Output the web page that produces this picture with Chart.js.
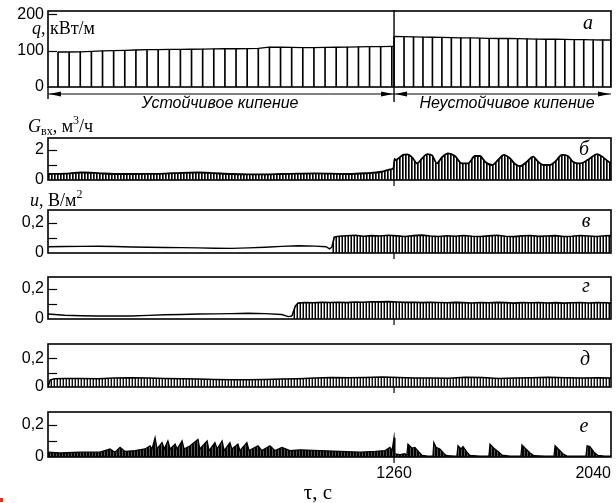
<!DOCTYPE html>
<html>
<head>
<meta charset="utf-8">
<script src="https://cdn.jsdelivr.net/npm/chart.js@4.4.1/dist/chart.umd.min.js"></script>
<style>
  html, body { margin: 0; padding: 0; background: #fff; }
  body { position: relative; width: 616px; height: 503px; overflow: hidden; }
  canvas { position: absolute; left: 0; }
  .t { position: absolute; white-space: nowrap; line-height: 1; color: #000; }
  .serif { font-family: "Liberation Serif", "Times New Roman", serif; font-size: 18px; }
  .sans { font-family: "Liberation Sans", Arial, sans-serif; font-size: 16px; font-style: italic; }
  .tag { font-family: "Liberation Serif", "Times New Roman", serif; font-size: 20px; font-style: italic; transform: translateX(-50%); }
  i { font-style: italic; }
  sub { font-size: 12px; vertical-align: -3px; }
  sup { font-size: 12px; vertical-align: 8px; }
  .dot { position: absolute; left: 0; top: 498px; width: 3px; height: 4px; background: #e0341c; }
</style>
</head>
<body>
<canvas id="pA" width="616" height="101" style="top:2px"></canvas>
<canvas id="pB" width="616" height="60" style="top:130px"></canvas>
<canvas id="pV" width="616" height="61" style="top:202px"></canvas>
<canvas id="pG" width="616" height="60" style="top:269px"></canvas>
<canvas id="pD" width="616" height="61" style="top:336px"></canvas>
<canvas id="pE" width="616" height="83" style="top:404px"></canvas>

<div class="t serif" style="left:32px;top:19px"><i>q</i>, кВт/м</div>
<div class="t serif" style="left:28px;top:114px"><i>G</i><sub>вх</sub>, м<sup>3</sup>/ч</div>
<div class="t serif" style="left:30px;top:188px"><i>u</i>, В/м<sup>2</sup></div>

<div class="t sans" style="left:220px;top:95px;transform:translateX(-50%)">Устойчивое кипение</div>
<div class="t sans" style="left:507px;top:95px;transform:translateX(-50%)">Неустойчивое кипение</div>

<div class="t tag" style="left:588px;top:12px">а</div>
<div class="t tag" style="left:584px;top:138px">б</div>
<div class="t tag" style="left:586px;top:210px">в</div>
<div class="t tag" style="left:586px;top:275px">г</div>
<div class="t tag" style="left:585px;top:348px">д</div>
<div class="t tag" style="left:584px;top:415px">е</div>

<div class="t serif" style="left:318px;top:482px;font-size:21px;transform:translateX(-50%)">τ, с</div>
<div class="dot"></div>

<script>
// ---- time axis, s ----
const T_MIN = 16;
const T_MAX = 2040;
const xTickValues = [16, 1260, 2040];
const xTickLabels = ['', '1260', '2040'];
const T_SWITCH = 1260;

// ---- heat flux q, kW/m (sampled heater readings) ----
const qTimesStable = [52, 92, 132, 172, 212, 252, 292, 332, 372, 412, 452, 492, 532, 572, 612, 652, 692, 732, 772, 812, 852, 892, 932, 972, 1012, 1052, 1092, 1132, 1172, 1212, 1252];
const qStable = [96, 96, 96.5, 97.5, 99, 100, 100.5, 101.5, 102.5, 102.5, 103, 103, 103.5, 104, 104.5, 105, 105, 105.5, 106, 109.5, 109, 108.5, 108, 108, 108.5, 109, 109.5, 110, 110.5, 111, 111.5];
const qTimesUnstable = [1260, 1296, 1330, 1364, 1398, 1432, 1466, 1500, 1534, 1568, 1602, 1636, 1670, 1704, 1738, 1772, 1806, 1840, 1874, 1908, 1942, 1976, 2010, 2040];
const qUnstable = [138.5, 138, 137.5, 137, 136.5, 136, 135.5, 135, 134.5, 134, 133.5, 133, 133, 132.5, 132, 131.5, 131, 131, 130.5, 130, 130, 129.5, 129, 129];
const qTickValues = [0, 100, 200];
const qTickLabels = ['0', '100', '200'];

// ---- inlet flow G, m3/h ----
const gTimes = [16, 76, 136, 196, 256, 316, 376, 436, 496, 556, 616, 676, 736, 796, 856, 916, 976, 1036, 1096, 1156, 1216, 1246, 1258, 1262, 1265, 1292, 1307, 1325, 1343, 1361, 1379, 1397, 1414, 1432, 1454, 1479, 1504, 1526, 1551, 1569, 1587, 1612, 1634, 1655, 1677, 1695, 1713, 1738, 1760, 1778, 1796, 1821, 1839, 1864, 1885, 1903, 1921, 1939, 1964, 1990, 2008, 2026, 2040];
const gValues = [0.40, 0.42, 0.50, 0.46, 0.40, 0.40, 0.41, 0.43, 0.48, 0.50, 0.45, 0.40, 0.38, 0.38, 0.40, 0.42, 0.44, 0.42, 0.40, 0.45, 0.55, 0.70, 0.80, 1.40, 1.33, 1.67, 1.71, 1.51, 1.11, 1.44, 1.73, 1.64, 1.11, 1.51, 1.78, 1.60, 1.11, 1.11, 1.60, 1.60, 1.22, 1.00, 1.33, 1.67, 1.44, 1.07, 0.93, 1.22, 1.56, 1.22, 1.00, 1.00, 1.22, 1.67, 1.60, 1.22, 1.11, 1.15, 1.44, 1.73, 1.56, 1.29, 1.11];
const gTickValues = [0, 1, 2];
const gTickLabels = ['0', '', '2'];

// ---- acoustic signal u, V/m2, sensor в ----
const vTimesQuiet = [16, 76, 136, 196, 256, 316, 376, 436, 496, 556, 616, 676, 736, 796, 856, 916, 976, 1016, 1028, 1037];
const vQuiet = [0.042, 0.043, 0.044, 0.045, 0.043, 0.040, 0.038, 0.037, 0.036, 0.034, 0.032, 0.031, 0.034, 0.038, 0.044, 0.048, 0.046, 0.042, 0.028, 0.040];
const vTimesActive = [1037, 1045, 1060, 1090, 1120, 1150, 1180, 1210, 1240, 1270, 1300, 1330, 1360, 1390, 1420, 1450, 1480, 1510, 1540, 1570, 1600, 1630, 1660, 1690, 1720, 1750, 1780, 1810, 1840, 1870, 1900, 1930, 1960, 1990, 2020, 2040];
const vActive = [0.040, 0.105, 0.112, 0.115, 0.118, 0.112, 0.116, 0.113, 0.118, 0.114, 0.110, 0.116, 0.119, 0.113, 0.110, 0.115, 0.112, 0.117, 0.112, 0.110, 0.114, 0.118, 0.112, 0.109, 0.114, 0.117, 0.111, 0.113, 0.116, 0.110, 0.112, 0.117, 0.113, 0.110, 0.115, 0.116];

// ---- sensor г ----
const gsTimesQuiet = [16, 76, 136, 196, 256, 316, 376, 436, 496, 556, 616, 676, 736, 796, 856, 880, 893];
const gsQuiet = [0.033, 0.025, 0.022, 0.020, 0.020, 0.020, 0.024, 0.028, 0.030, 0.033, 0.034, 0.036, 0.038, 0.036, 0.030, 0.016, 0.020];
const gsTimesActive = [893, 905, 915, 940, 970, 1000, 1030, 1060, 1090, 1120, 1150, 1180, 1210, 1240, 1270, 1300, 1330, 1360, 1390, 1420, 1450, 1480, 1510, 1540, 1570, 1600, 1630, 1660, 1690, 1720, 1750, 1780, 1810, 1840, 1870, 1900, 1930, 1960, 1990, 2020, 2040];
const gsActive = [0.020, 0.085, 0.106, 0.110, 0.108, 0.111, 0.110, 0.112, 0.109, 0.113, 0.112, 0.115, 0.114, 0.116, 0.113, 0.111, 0.112, 0.109, 0.112, 0.110, 0.108, 0.111, 0.109, 0.107, 0.110, 0.108, 0.111, 0.109, 0.106, 0.109, 0.108, 0.110, 0.107, 0.109, 0.106, 0.108, 0.110, 0.107, 0.109, 0.108, 0.106];

// ---- sensor д ----
const dTimes = [16, 24, 40, 76, 136, 196, 256, 316, 376, 436, 496, 556, 616, 676, 736, 796, 856, 916, 976, 1036, 1096, 1156, 1216, 1276, 1336, 1396, 1456, 1516, 1576, 1636, 1696, 1756, 1816, 1876, 1936, 1996, 2040];
const dValues = [0.000, 0.050, 0.058, 0.060, 0.060, 0.058, 0.062, 0.064, 0.062, 0.060, 0.058, 0.055, 0.052, 0.050, 0.050, 0.052, 0.055, 0.058, 0.062, 0.066, 0.064, 0.066, 0.070, 0.066, 0.062, 0.063, 0.061, 0.068, 0.066, 0.060, 0.062, 0.064, 0.068, 0.065, 0.062, 0.064, 0.063];

// ---- sensor е ----
const eTimes = [16, 59, 131, 203, 239, 257, 275, 293, 329, 365, 383, 390, 401, 408, 426, 434, 447, 455, 473, 480, 498, 505, 527, 555, 562, 588, 595, 616, 624, 642, 649, 670, 677, 699, 706, 731, 739, 771, 785, 814, 832, 857, 886, 922, 994, 1066, 1138, 1192, 1228, 1245, 1253, 1260, 1263, 1281, 1299, 1306, 1310, 1325, 1335, 1350, 1361, 1382, 1400, 1403, 1411, 1425, 1440, 1450, 1479, 1486, 1490, 1501, 1508, 1522, 1533, 1569, 1601, 1605, 1619, 1634, 1648, 1677, 1716, 1720, 1734, 1749, 1763, 1803, 1835, 1839, 1853, 1867, 1882, 1921, 1950, 1954, 1964, 1979, 1993, 2018, 2040];
const eValues = [0.030, 0.025, 0.030, 0.030, 0.050, 0.030, 0.060, 0.035, 0.040, 0.050, 0.070, 0.050, 0.120, 0.050, 0.090, 0.050, 0.100, 0.050, 0.080, 0.050, 0.100, 0.050, 0.070, 0.110, 0.050, 0.100, 0.040, 0.090, 0.050, 0.100, 0.040, 0.090, 0.050, 0.080, 0.040, 0.090, 0.040, 0.070, 0.040, 0.070, 0.040, 0.060, 0.040, 0.045, 0.040, 0.035, 0.030, 0.035, 0.040, 0.060, 0.040, 0.120, 0.020, 0.015, 0.020, 0.010, 0.080, 0.055, 0.060, 0.030, 0.010, 0.005, 0.005, 0.090, 0.060, 0.050, 0.020, 0.008, 0.005, 0.005, 0.070, 0.050, 0.065, 0.030, 0.010, 0.005, 0.005, 0.080, 0.055, 0.035, 0.012, 0.005, 0.005, 0.075, 0.050, 0.025, 0.008, 0.005, 0.005, 0.070, 0.045, 0.020, 0.006, 0.005, 0.005, 0.070, 0.065, 0.030, 0.010, 0.005, 0.005];

const uTickValues = [0, 0.1, 0.2];
const uTickLabels = ['0', '', '0,2'];

// ---------------------------------------------------------------
const pts = (xs, ys) => xs.map((x, i) => ({ x, y: ys[i] }));

// vertical recorder hatching used under the traces
function hatch(cols) {
  const c = document.createElement('canvas');
  c.width = cols.length; c.height = 1;
  const g = c.getContext('2d');
  cols.forEach((col, i) => { g.fillStyle = col; g.fillRect(i, 0, 1, 1); });
  return g.createPattern(c, 'repeat');
}

function seg(ctx, x1, y1, x2, y2) {
  ctx.beginPath(); ctx.moveTo(x1, y1); ctx.lineTo(x2, y2); ctx.stroke();
}
function head(ctx, x, y, dir) {
  ctx.beginPath();
  ctx.moveTo(x, y);
  ctx.lineTo(x - dir * 12, y - 2.6);
  ctx.lineTo(x - dir * 12, y + 2.6);
  ctx.closePath(); ctx.fill();
}

// box, inward tick marks and the regime markers
const panelFrame = {
  id: 'panelFrame',
  afterDatasetsDraw(chart, args, o) {
    const { ctx, chartArea: a, scales } = chart;
    ctx.save();
    ctx.strokeStyle = '#000'; ctx.fillStyle = '#000';
    ctx.lineWidth = 1.6;
    ctx.strokeRect(a.left, a.top, a.right - a.left, a.bottom - a.top);
    ctx.lineWidth = 1.2;
    (o.inner || []).forEach(v => {
      const y = Math.round(scales.y.getPixelForValue(v)) + 0.5;
      seg(ctx, a.left, y, a.left + 9, y);
    });
    const xs = scales.x.getPixelForValue(T_SWITCH);
    if (o.mark) seg(ctx, xs, a.bottom, xs, a.bottom + 6);
    if (o.regimes) {
      ctx.lineWidth = 1.4;
      seg(ctx, xs, a.top - 1, xs, a.bottom + 15);
      seg(ctx, a.left, a.bottom, a.left, a.bottom + 12);
      const ya = a.bottom + 7;
      ctx.lineWidth = 1;
      seg(ctx, a.left, ya, a.right, ya);
      head(ctx, a.left + 1, ya, -1);
      head(ctx, xs - 1, ya, 1);
      head(ctx, xs + 1, ya, -1);
      head(ctx, a.right - 1, ya, 1);
    }
    ctx.restore();
  }
};

const tickFont = { family: '"Liberation Sans", Arial, sans-serif', size: 16 };

function panel(id, cfg) {
  const showX = !!cfg.xLabels;
  const xScale = {
    type: 'linear', min: T_MIN, max: T_MAX, offset: false,
    display: showX,
    grid: { display: false, drawTicks: false },
    border: { display: false },
    ticks: {
      color: '#000', font: tickFont, padding: 7, align: 'inner',
      maxRotation: 0, autoSkip: false,
      callback: (v, i) => xTickLabels[i]
    },
    afterBuildTicks: s => { s.ticks = xTickValues.map(v => ({ value: v })); },
    afterFit: s => {
      s.height = showX ? 30 : 0;
      s.paddingLeft = 0; s.paddingRight = 0;
    }
  };
  const yScale = {
    type: 'linear', min: 0, max: cfg.yMax,
    grid: { display: false, drawTicks: false },
    border: { display: false },
    ticks: { color: '#000', font: tickFont, padding: 4, callback: (v, i) => cfg.yLabels[i] },
    afterBuildTicks: s => { s.ticks = cfg.yTicks.map(v => ({ value: v })); },
    afterFit: s => { s.width = 48; s.paddingTop = 0; s.paddingBottom = 0; }
  };
  return new Chart(document.getElementById(id), {
    type: cfg.type || 'line',
    data: { datasets: cfg.datasets },
    options: {
      responsive: false, animation: false, devicePixelRatio: 1,
      layout: { padding: { left: 0, right: 5, top: cfg.padTop, bottom: cfg.padBottom } },
      elements: { point: { radius: 0 }, line: { borderColor: '#000', borderWidth: 1.5 } },
      plugins: { legend: { display: false }, tooltip: { enabled: false }, panelFrame: cfg.frame },
      scales: { x: xScale, y: yScale }
    },
    plugins: [panelFrame]
  });
}

// а — heat flux
panel('pA', {
  type: 'bar', yMax: 208.5, yTicks: qTickValues, yLabels: qTickLabels, padTop: 9, padBottom: 16,
  frame: { inner: [100, 200], regimes: true },
  datasets: [
    { type: 'bar', data: pts(qTimesStable.concat(qTimesUnstable), qStable.concat(qUnstable)), backgroundColor: '#000', barThickness: 1, borderWidth: 0 },
    { type: 'line', data: pts(qTimesStable.concat([T_SWITCH]), qStable.concat([qStable[qStable.length - 1]])), borderWidth: 1.3, fill: false },
    { type: 'line', data: pts(qTimesUnstable, qUnstable), borderWidth: 1.3, fill: false }
  ]
});

// б — inlet flow
panel('pB', {
  yMax: 2.8, yTicks: gTickValues, yLabels: gTickLabels, padTop: 8, padBottom: 10,
  frame: { inner: [1, 2], mark: true },
  datasets: [
    { data: pts(gTimes, gValues), borderWidth: 1.8, cubicInterpolationMode: 'monotone', fill: 'origin', backgroundColor: hatch(['#000', '#555', '#fff']) }
  ]
});

// в
panel('pV', {
  yMax: 0.287, yTicks: uTickValues, yLabels: uTickLabels, padTop: 8, padBottom: 10,
  frame: { inner: [0.1, 0.2], mark: true },
  datasets: [
    { data: pts(vTimesQuiet, vQuiet), borderWidth: 1.4, fill: false },
    { data: pts(vTimesActive, vActive), borderWidth: 1.6, fill: 'origin', backgroundColor: hatch(['#000', '#fff', '#777']) }
  ]
});

// г
panel('pG', {
  yMax: 0.28, yTicks: uTickValues, yLabels: uTickLabels, padTop: 8, padBottom: 10,
  frame: { inner: [0.1, 0.2], mark: true },
  datasets: [
    { data: pts(gsTimesQuiet, gsQuiet), borderWidth: 1.4, fill: false },
    { data: pts(gsTimesActive, gsActive), borderWidth: 1.6, fill: 'origin', backgroundColor: hatch(['#000', '#fff', '#888']) }
  ]
});

// д
panel('pD', {
  yMax: 0.30, yTicks: uTickValues, yLabels: uTickLabels, padTop: 8, padBottom: 10,
  frame: { inner: [0.1, 0.2], mark: true },
  datasets: [
    { data: pts(dTimes, dValues), borderWidth: 1.5, fill: 'origin', backgroundColor: hatch(['#111', '#fff', '#999']) }
  ]
});

// е
panel('pE', {
  yMax: 0.281, yTicks: uTickValues, yLabels: uTickLabels, padTop: 8, padBottom: 0, xLabels: true,
  frame: { inner: [0.1, 0.2], mark: true },
  datasets: [
    { data: pts(eTimes, eValues), borderWidth: 1.3, fill: 'origin', backgroundColor: hatch(['#000', '#000', '#555']) }
  ]
});
</script>
</body>
</html>
